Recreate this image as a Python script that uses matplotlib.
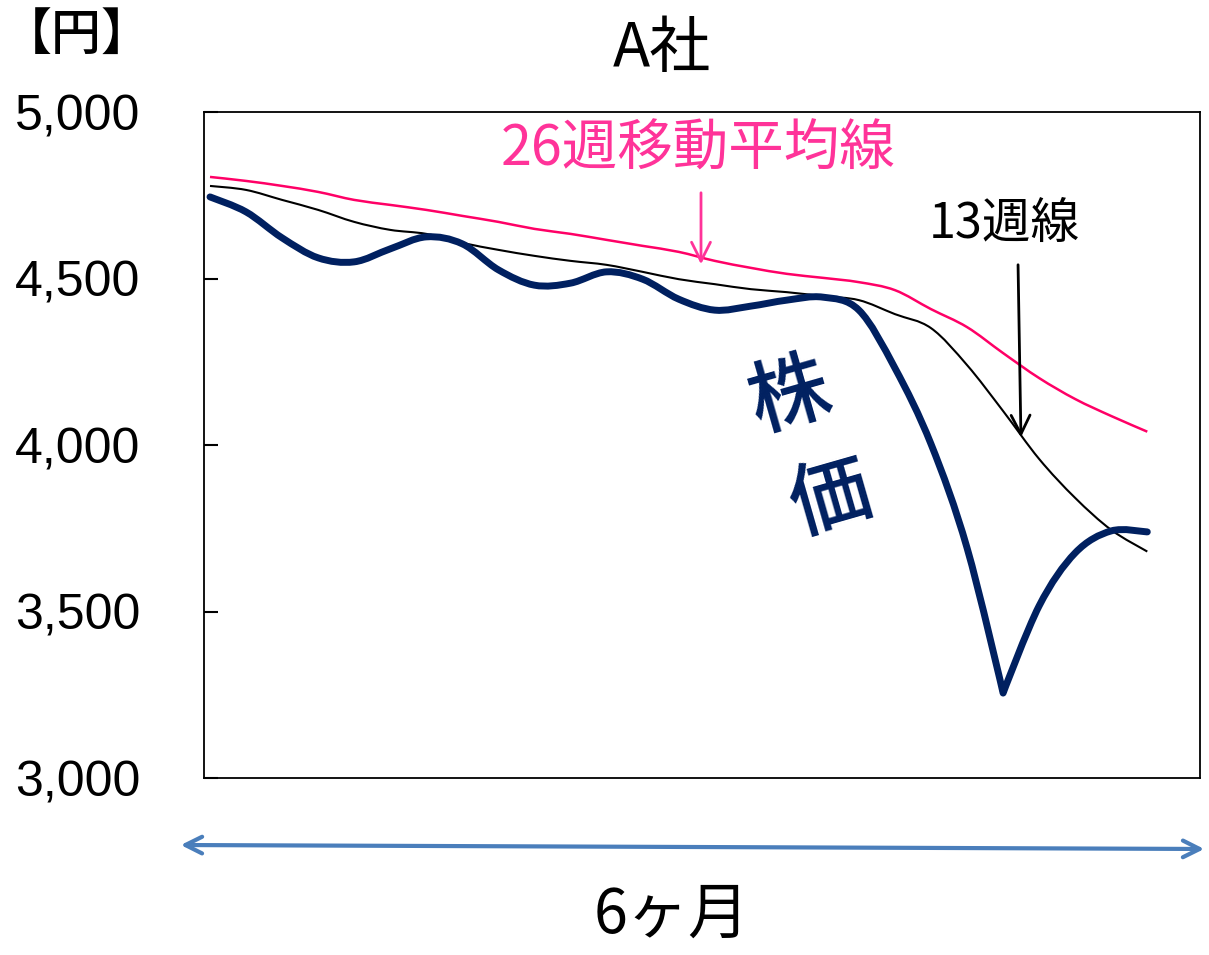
import numpy as np
import matplotlib
matplotlib.use("Agg")
import matplotlib.pyplot as plt
from matplotlib.path import Path
from matplotlib.patches import PathPatch

# weekly values (yen), 27 weeks
weeks = np.arange(27)
price = [4745, 4700, 4622, 4562, 4550, 4589, 4625, 4604, 4526, 4480,
         4486, 4520, 4498, 4438, 4405, 4417, 4435, 4444, 4405, 4231,
         4003, 3691, 3255, 3517, 3676, 3742, 3739]
ma13 = [4778, 4766, 4736, 4706, 4670, 4646, 4634, 4607, 4586, 4568,
        4553, 4541, 4520, 4498, 4483, 4468, 4459, 4447, 4435, 4393,
        4351, 4240, 4102, 3958, 3841, 3745, 3680]
ma26 = [4805, 4793, 4778, 4760, 4736, 4721, 4706, 4688, 4670, 4649,
        4634, 4616, 4598, 4580, 4553, 4532, 4514, 4502, 4489, 4465,
        4408, 4354, 4276, 4201, 4138, 4087, 4040]
yticks = [3000, 3500, 4000, 4500, 5000]
ytick_labels = ["3,000", "3,500", "4,000", "4,500", "5,000"]

W, H = 1209, 955
JP = ["Noto Sans CJK JP", "DejaVu Sans"]
NAVY = "#002060"
PINK = "#FF0066"
PINK_TXT = "#FF3399"


def smooth_path(x, y, corners=()):
    # Excel-like smoothed line: cubic bezier through every point
    x = np.asarray(x, float)
    y = np.asarray(y, float)
    n = len(x)
    tx = np.zeros(n)
    ty = np.zeros(n)
    for i in range(n):
        if i in corners:
            continue
        a, b = max(i - 1, 0), min(i + 1, n - 1)
        tx[i] = (x[b] - x[a]) / 6
        ty[i] = (y[b] - y[a]) / 6
    verts = [(x[0], y[0])]
    codes = [Path.MOVETO]
    for i in range(n - 1):
        verts += [(x[i] + tx[i], y[i] + ty[i]),
                  (x[i + 1] - tx[i + 1], y[i + 1] - ty[i + 1]),
                  (x[i + 1], y[i + 1])]
        codes += [Path.CURVE4] * 3
    return Path(verts, codes)


fig = plt.figure(figsize=(W / 100, H / 100), dpi=100)
ax = fig.add_axes([204 / W, 1 - 778 / H, (1200 - 204) / W, (778 - 112) / H])

# x: week i sits at pixel 210 + 36.05*i
x0, dx = 210, 36.05
ax.set_xlim((204 - x0) / dx, (1200 - x0) / dx)
ax.set_ylim(3000, 5000)

ax.add_patch(PathPatch(smooth_path(weeks, ma26), fill=False, edgecolor=PINK, lw=1.8))
ax.add_patch(PathPatch(smooth_path(weeks, ma13), fill=False, edgecolor="black", lw=1.5))
ax.add_patch(PathPatch(smooth_path(weeks, price, corners=(22,)), fill=False,
                       edgecolor=NAVY, lw=5, capstyle="round", joinstyle="round"))

ax.set_xticks([])
ax.set_yticks(yticks)
ax.set_yticklabels(ytick_labels, family="Liberation Sans", fontsize=36)
ax.tick_params(axis="y", direction="in", length=10, width=1.5, pad=46)
for s in ax.spines.values():
    s.set_linewidth(1.3)
    s.set_color("black")


def fp(x, y):
    return (x, H - y)


fig.text(662 / W, 1 - 50 / H, "A社", family=JP, fontsize=44, ha="center", va="center")
fig.text(77 / W, 1 - 36 / H, "【円】", family=JP, fontsize=36, ha="center", va="center",
         weight="medium")
fig.text(698 / W, 1 - 150 / H, "26週移動平均線", family=JP, fontsize=40, color=PINK_TXT,
         ha="center", va="center")
fig.text(1004 / W, 1 - 224 / H, "13週線", family=JP, fontsize=35, color="black",
         ha="center", va="center")
fig.text(790 / W, 1 - 397 / H, "株", family=JP, fontsize=58, color=NAVY,
         ha="center", va="center", rotation=16, weight="medium")
fig.text(831 / W, 1 - 500 / H, "価", family=JP, fontsize=58, color=NAVY,
         ha="center", va="center", rotation=16, weight="medium")
fig.text(672 / W, 1 - 915 / H, "6ヶ月", family=JP, fontsize=44, ha="center", va="center")

ax.annotate("", xy=fp(701, 267), xytext=fp(701, 190), xycoords="figure pixels",
            arrowprops=dict(arrowstyle="->", color=PINK_TXT, lw=2, mutation_scale=34),
            annotation_clip=False)
ax.annotate("", xy=fp(1021, 440), xytext=fp(1018, 262), xycoords="figure pixels",
            arrowprops=dict(arrowstyle="->", color="black", lw=2, mutation_scale=34),
            annotation_clip=False)
ax.annotate("", xy=fp(1207, 849), xytext=fp(178, 845), xycoords="figure pixels",
            arrowprops=dict(arrowstyle="<->", color="#4A7EBB", lw=3, mutation_scale=30),
            annotation_clip=False)

fig.savefig("out.png", dpi=100)
